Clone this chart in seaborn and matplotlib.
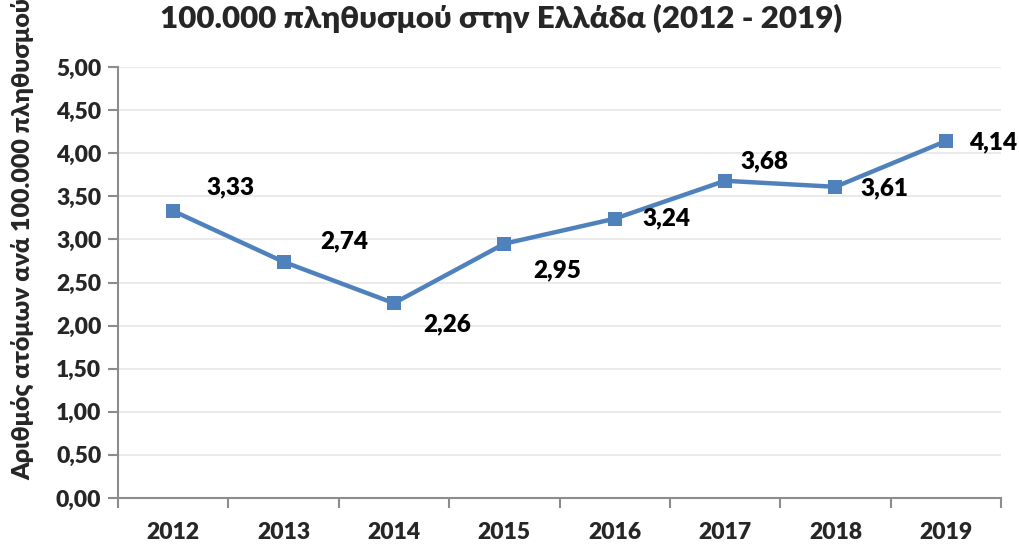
import pandas as pd
import seaborn as sns
import matplotlib.pyplot as plt

# Data
years = ["2012", "2013", "2014", "2015", "2016", "2017", "2018", "2019"]
rates = [3.33, 2.74, 2.26, 2.95, 3.24, 3.68, 3.61, 4.14]
# label offsets (points) relative to each marker
label_offsets = [(41, 17), (44, 15), (38, -15), (38, -19), (37, 0), (28, 14), (35, -1), (34, -1)]

df = pd.DataFrame({"year": years, "rate": rates})

sns.set_theme(style="white")
plt.rcParams["font.family"] = ["Lato", "Open Sans", "DejaVu Sans"]
W = "heavy"

fig = plt.figure(figsize=(10.19, 5.45), dpi=100)
ax = fig.add_axes([118 / 1019, 47 / 545, 883 / 1019, 431 / 545])

sns.lineplot(data=df, x="year", y="rate", ax=ax, color="#4F81BD", linewidth=3.2,
             marker="s", markersize=10, markeredgewidth=0, sort=False)

for i, (v, off) in enumerate(zip(rates, label_offsets)):
    ax.annotate(f"{v:.2f}".replace(".", ","), (i, v), xytext=off, textcoords="offset points",
                ha="center", va="center", fontsize=17.5, fontweight=W, color="black")

ax.set_xlim(-0.5, 7.5)
ax.set_ylim(0, 5)
ax.set_yticks([i * 0.5 for i in range(11)])
ax.set_yticklabels([f"{i * 0.5:.2f}".replace(".", ",") for i in range(11)])
ax.set_xticks(range(len(years)))
ax.set_xticks([i - 0.5 for i in range(len(years) + 1)], minor=True)

ax.grid(axis="y", color="#E6E6E6", linewidth=1.2)
ax.set_axisbelow(True)
for s in ["top", "right"]:
    ax.spines[s].set_visible(False)
for s in ["left", "bottom"]:
    ax.spines[s].set_color("#8C8C8C")
    ax.spines[s].set_linewidth(1.5)

ax.tick_params(axis="y", which="major", left=True, length=7, width=1.5, color="#8C8C8C",
               labelsize=16.5, pad=5)
ax.tick_params(axis="x", which="major", bottom=False, labelsize=16.5, pad=11)
ax.tick_params(axis="x", which="minor", bottom=True, length=7, width=1.5, color="#8C8C8C")
for lbl in ax.get_xticklabels() + ax.get_yticklabels():
    lbl.set_fontweight(W)

ax.set_xlabel("")
ax.set_ylabel("Αριθμός ατόμων ανά 100.000 πληθυσμού", fontsize=18, fontweight=W)
ax.yaxis.set_label_coords(-84 / 883, 0.5 + 44 / 431)

fig.text(501 / 1019, 1 - 18 / 545, "100.000 πληθυσμού στην Ελλάδα (2012 - 2019)",
         ha="center", va="center", fontsize=22.5, fontweight=W)

fig.savefig("out.png", dpi=100)
